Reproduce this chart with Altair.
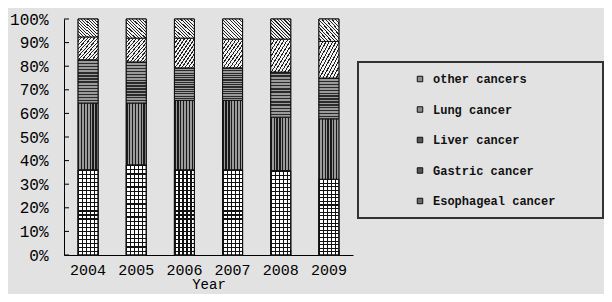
import altair as alt
import pandas as pd

years = ["2004", "2005", "2006", "2007", "2008", "2009"]
categories = ["Esophageal cancer", "Gastric cancer", "Liver cancer", "Lung cancer", "other cancers"]
esophageal = [36.1, 38.2, 36.1, 36.1, 35.8, 32.1]
gastric = [28.3, 26.2, 29.4, 29.4, 22.6, 25.6]
liver = [18.3, 17.4, 13.8, 13.8, 19.1, 17.3]
lung = [9.7, 10.1, 12.6, 12.2, 14.0, 15.5]
other = [7.6, 8.1, 8.1, 8.5, 8.5, 9.5]
series = [esophageal, gastric, liver, lung, other]
y_ticks = [0, 0.1, 0.2, 0.3, 0.4, 0.5, 0.6, 0.7, 0.8, 0.9, 1.0]

rows = []
for ci, (cat, vals) in enumerate(zip(categories, series)):
    for yr, v in zip(years, vals):
        rows.append({"year": yr, "cancer": cat, "value": v, "order": ci})
df = pd.DataFrame(rows)
year_df = pd.DataFrame({"year": years})
tick_df = pd.DataFrame({"t": y_ticks})

BG = "#e2e2e2"
MONO = "Liberation Mono"


def stripes(n, dark, light, frac, x1, y1, x2, y2):
    stops = []
    for k in range(n):
        a = round(k / n, 4)
        b = round((k + frac) / n, 4)
        c = round((k + 1) / n, 4)
        stops += [
            alt.GradientStop(color=dark, offset=a),
            alt.GradientStop(color=dark, offset=b),
            alt.GradientStop(color=light, offset=b),
            alt.GradientStop(color=light, offset=c),
        ]
    return alt.LinearGradient(gradient="linear", stops=stops, x1=x1, y1=y1, x2=x2, y2=y2)


x_scale = alt.Scale(paddingInner=0.585, paddingOuter=0.2925)
x_axis = alt.Axis(
    labelAngle=0, ticks=False, labelPadding=7,
    labelFont=MONO, labelFontSize=15, labelColor="#000",
    titleFont=MONO, titleFontSize=14, titleFontWeight="normal", titleColor="#000",
    titleY=36, titleBaseline="bottom", domainColor="#000",
)
y_scale = alt.Scale(domain=[0, 1])
y_axis = alt.Axis(
    values=y_ticks, format=".0%", title=None, grid=False, ticks=False, labelPadding=16,
    labelFont=MONO, labelFontSize=16, labelColor="#000", domainColor="#000",
)

base = alt.Chart(df).transform_stack(
    stack="value",
    as_=["y0", "y1"],
    groupby=["year"],
    sort=[alt.SortField("order", order="ascending")],
    offset="normalize",
)

x_enc = alt.X("year:O", title="Year", scale=x_scale, axis=x_axis)
y_enc = alt.Y("y0:Q", scale=y_scale, axis=y_axis)
y2_enc = alt.Y2("y1:Q")

legend_domain = ["other cancers", "Lung cancer", "Liver cancer", "Gastric cancer", "Esophageal cancer"]
legend_range = ["#8c8c8c", "#8c8c8c", "#555555", "#555555", "#6a6a6a"]

# legend frame (decoration only)
frame = alt.Chart(pd.DataFrame({"f": [0]})).mark_rect(
    fill=BG, stroke="#333", strokeWidth=2
).encode(x=alt.value(294), x2=alt.value(539), y=alt.value(43), y2=alt.value(199))

color_layer = base.mark_bar(stroke="#111", strokeWidth=1).encode(
    x=x_enc, y=y_enc, y2=y2_enc,
    color=alt.Color(
        "cancer:N",
        scale=alt.Scale(domain=legend_domain, range=legend_range),
        legend=alt.Legend(
            orient="none", legendX=294, legendY=43, title=None, direction="vertical",
            padding=11, symbolOffset=45, labelOffset=7, rowPadding=18.5,
            symbolType="square", symbolSize=30, symbolStrokeColor="#111", symbolStrokeWidth=1,
            labelFont=MONO, labelFontSize=12, labelFontWeight="bold", labelColor="#111",
            labelLimit=400,
        ),
    ),
)

patterns = {
    "Esophageal cancer": [
        stripes(5, "#111111", "#ffffff", 0.28, 0, 0, 1, 0),
        stripes(21, "#111111", "rgba(0,0,0,0)", 0.28, 0, 0, 0, 1),
    ],
    "Gastric cancer": [stripes(7, "#1a1a1a", "#9a9a9a", 0.45, 0, 0, 1, 0)],
    "Liver cancer": [stripes(14, "#2a2a2a", "#9a9a9a", 0.45, 0, 0, 0, 1)],
    "Lung cancer": [stripes(12, "#222222", "#f2f2f2", 0.35, 0, 0, 1, 1)],
    "other cancers": [stripes(12, "#222222", "#f2f2f2", 0.35, 1, 0, 0, 1)],
}

layers = [frame, color_layer]
for cat in categories:
    for grad in patterns[cat]:
        layers.append(
            base.transform_filter(alt.datum.cancer == cat)
            .mark_bar(fill=grad, stroke="#111", strokeWidth=1)
            .encode(x=x_enc, y=y_enc, y2=y2_enc)
        )

# inward axis ticks
y_tick_layer = alt.Chart(tick_df).mark_rule(color="#000", strokeWidth=1).encode(
    y=alt.Y("t:Q", scale=y_scale, axis=y_axis), x=alt.value(0), x2=alt.value(5)
)
x_tick_layer = alt.Chart(year_df).mark_rule(color="#000", strokeWidth=1).encode(
    x=alt.X("year:O", title="Year", scale=x_scale, axis=x_axis, bandPosition=1),
    y=alt.value(236), y2=alt.value(231),
)
layers += [y_tick_layer, x_tick_layer]

chart = (
    alt.layer(*layers)
    .properties(
        width=289,
        height=236,
        padding={"left": 56, "top": 11, "right": 251, "bottom": 39},
        autosize=alt.AutoSizeParams(type="none"),
        background=BG,
    )
    .configure_view(stroke=None)
)

chart.save("out.html", embed_options={"renderer": "svg", "actions": False})
